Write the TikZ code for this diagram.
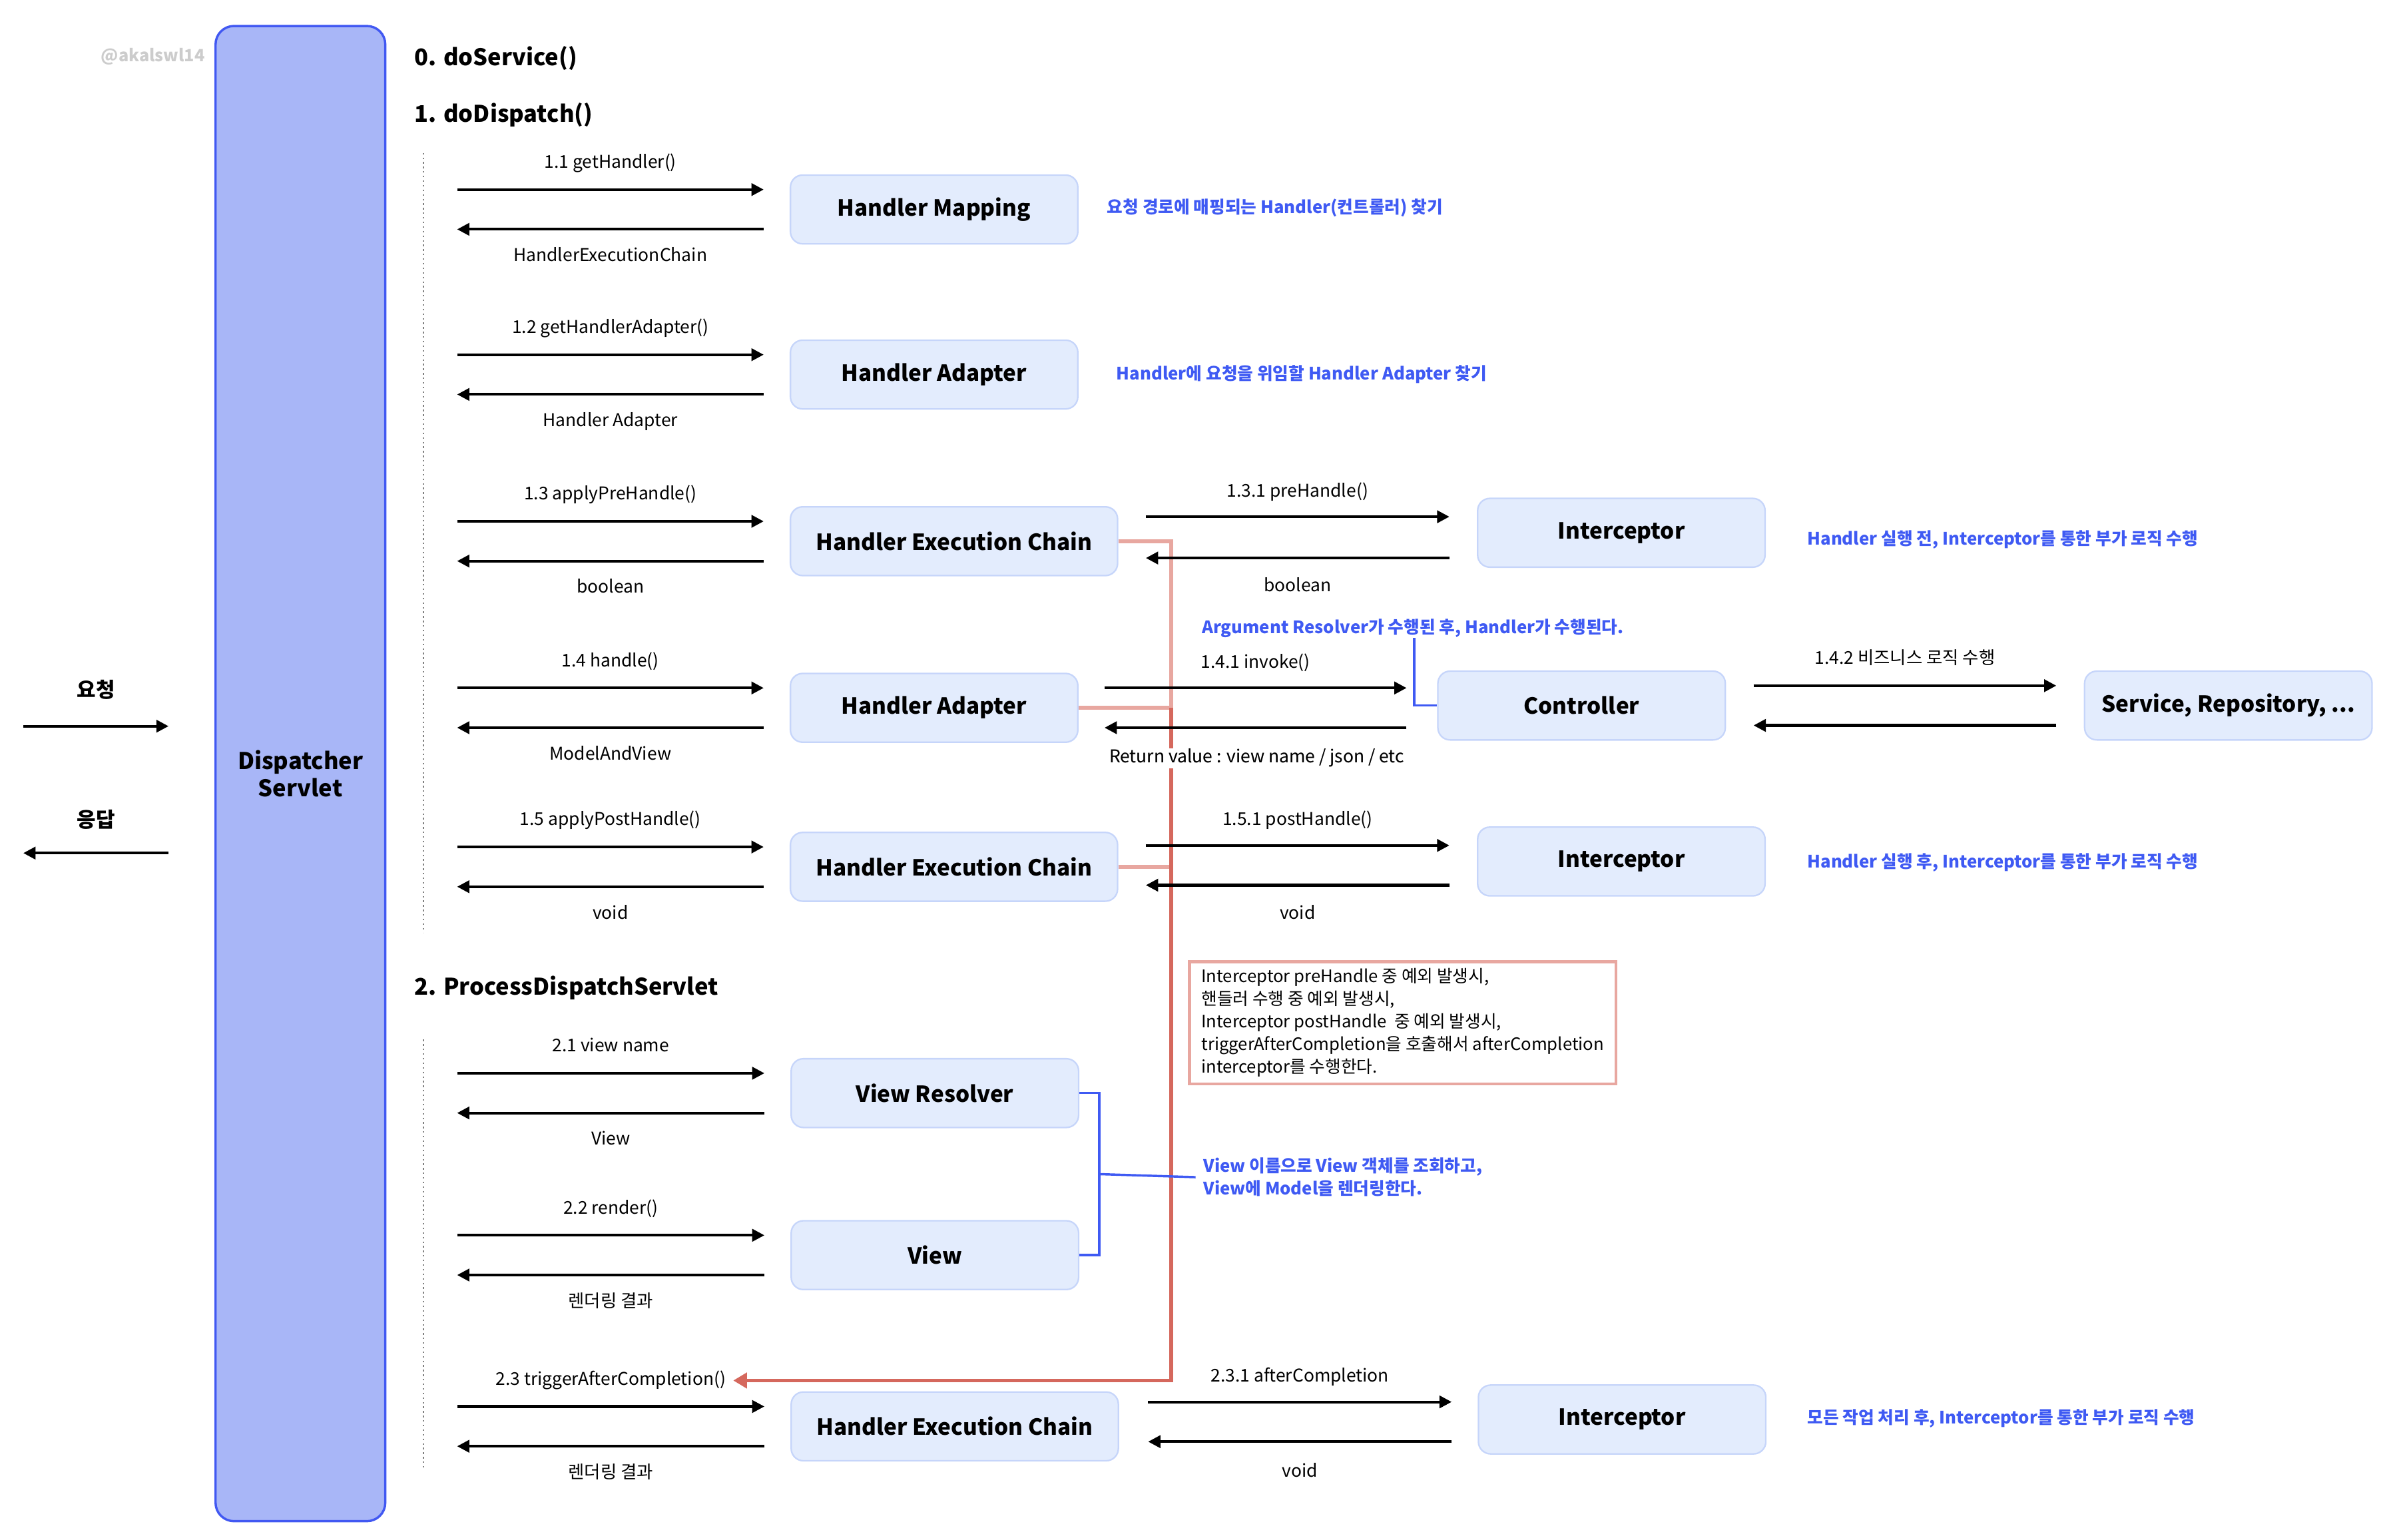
\documentclass[tikz,border=0pt]{standalone}
\usepackage{fontspec}
\setmainfont{Noto Sans CJK KR}
\usetikzlibrary{arrows.meta, calc}

\definecolor{boxfill}{HTML}{E3ECFD}
\definecolor{boxline}{HTML}{C6D5FA}
\definecolor{dsfill}{HTML}{A8B6F7}
\definecolor{dsline}{HTML}{4158F2}
\definecolor{noteblue}{HTML}{3F5AF3}
\definecolor{reddark}{HTML}{D5685D}
\definecolor{redlight}{HTML}{E8A7A0}
\definecolor{markgray}{HTML}{CCCCCC}

\tikzset{
	box/.style={draw=boxline, fill=boxfill, line width=1pt, rounded corners=8pt, minimum width=188pt, minimum height=45pt, font=\bfseries\fontsize{14.5}{17}\selectfont},
	widebox/.style={box, minimum width=214pt},
	call/.style={-{Triangle[length=8pt, width=8pt]}, line width=1.8pt},
	lbl/.style={font=\fontsize{11.5}{14}\selectfont, inner sep=1pt, text height=8.5pt, text depth=2.5pt},
	note/.style={anchor=west, text=noteblue, font=\bfseries\fontsize{11.2}{15}\selectfont, inner sep=0pt},
	title/.style={anchor=west, font=\bfseries\fontsize{15}{18}\selectfont, inner sep=0pt},
	bracket/.style={draw=noteblue, line width=1.5pt},
	errline/.style={draw=reddark, line width=2.5pt},
	errstub/.style={draw=redlight, line width=2.5pt}
}

\begin{document}
\begin{tikzpicture}[x=1pt, y=-1pt]
	\useasboundingbox (0, 0) rectangle (1560, 1007);
	
	% 左边
	\node [text=markgray, font=\bfseries\fontsize{11}{13}\selectfont] (mark) at (100, 37) {@akalswl14};
	\node [draw=dsline, fill=dsfill, line width=1.5pt, rounded corners=12pt, minimum width=111pt, minimum height=978pt, align=center, font=\bfseries\fontsize{15}{18}\selectfont] (ds) at (196.5, 506) {Dispatcher\\Servlet};
	\draw [call] ([xshift=-125pt, yshift=31pt]ds.west) -- node [font=\bfseries\fontsize{13.5}{16}\selectfont, yshift=24pt] (req) {요청} ([xshift=-30pt, yshift=31pt]ds.west);
	\draw [call] ([xshift=-30pt, yshift=-52pt]ds.west) -- node [font=\bfseries\fontsize{13.5}{16}\selectfont, yshift=22pt] (res) {응답} ([xshift=-125pt, yshift=-52pt]ds.west);
	
	% 标题
	\node [title] (t0) at (271, 38) {0. doService()};
	\node [title] (t1) at (271, 75) {1. doDispatch()};
	\node [title] (t2) at (271, 646) {2. ProcessDispatchServlet};
	\draw [gray, dotted, line width=1pt] (277, 100) -- (277, 610);
	\draw [gray, dotted, line width=1pt] (277, 680) -- (277, 960);
	\coordinate (rail) at (299, 0);
	\coordinate (bus) at (766, 0);
	
	% 中间一列
	% modules
	\node [box] (hm) at (611, 137) {Handler Mapping};
	\node [box] (ha1) at (611, 245) {Handler Adapter};
	\node [widebox] (hec1) at (624, 354) {Handler Execution Chain};
	\node [box] (ha2) at (611, 463) {Handler Adapter};
	\node [widebox] (hec2) at (624, 567) {Handler Execution Chain};
	\node [box] (vr) at (611.5, 715) {View Resolver};
	\node [box] (vw) at (611.5, 821) {View};
	\node [widebox] (hec3) at (624.5, 933) {Handler Execution Chain};
	
	% 错误处理
	\node [lbl] (ret) at (822, 496) {Return value : view name / json / etc};
	\draw [errstub] (hec1.east) -- (bus |- hec1.east) -- (bus |- ha2.east);
	\draw [errstub] (ha2.east) -- (bus |- ha2.east);
	\draw [errstub] (hec2.east) -- (bus |- hec2.east);
	\draw [errline] (bus |- ha2.east) -- (bus |- ret.north);
	\node [lbl, fill=white, fill opacity=.6, text opacity=1] at (ret) {Return value : view name / json / etc};
	
	% lines
	\draw [call] ([yshift=13pt]rail |- hm.west) -- node [lbl, yshift=17pt] (l11) {1.1 getHandler()} ([xshift=-17pt, yshift=13pt]hm.west);
	\draw [call] ([xshift=-17pt, yshift=-13pt]hm.west) -- node [lbl, yshift=-18pt] (r11) {HandlerExecutionChain} ([yshift=-13pt]rail |- hm.west);
	
	\draw [call] ([yshift=13pt]rail |- ha1.west) -- node [lbl, yshift=17pt] (l12) {1.2 getHandlerAdapter()} ([xshift=-17pt, yshift=13pt]ha1.west);
	\draw [call] ([xshift=-17pt, yshift=-13pt]ha1.west) -- node [lbl, yshift=-18pt] (r12) {Handler Adapter} ([yshift=-13pt]rail |- ha1.west);
	
	\draw [call] ([yshift=13pt]rail |- hec1.west) -- node [lbl, yshift=17pt] (l13) {1.3 applyPreHandle()} ([xshift=-17pt, yshift=13pt]hec1.west);
	\draw [call] ([xshift=-17pt, yshift=-13pt]hec1.west) -- node [lbl, yshift=-18pt] (r13) {boolean} ([yshift=-13pt]rail |- hec1.west);
	
	\draw [call] ([yshift=13pt]rail |- ha2.west) -- node [lbl, yshift=17pt] (l14) {1.4 handle()} ([xshift=-17pt, yshift=13pt]ha2.west);
	\draw [call] ([xshift=-17pt, yshift=-13pt]ha2.west) -- node [lbl, yshift=-18pt] (r14) {ModelAndView} ([yshift=-13pt]rail |- ha2.west);
	
	\draw [call] ([yshift=13pt]rail |- hec2.west) -- node [lbl, yshift=17pt] (l15) {1.5 applyPostHandle()} ([xshift=-17pt, yshift=13pt]hec2.west);
	\draw [call] ([xshift=-17pt, yshift=-13pt]hec2.west) -- node [lbl, yshift=-18pt] (r15) {void} ([yshift=-13pt]rail |- hec2.west);
	
	\draw [call] ([yshift=13pt]rail |- vr.west) -- node [lbl, yshift=17pt] (l21) {2.1 view name} ([xshift=-17pt, yshift=13pt]vr.west);
	\draw [call] ([xshift=-17pt, yshift=-13pt]vr.west) -- node [lbl, yshift=-18pt] (r21) {View} ([yshift=-13pt]rail |- vr.west);
	
	\draw [call] ([yshift=13pt]rail |- vw.west) -- node [lbl, yshift=17pt] (l22) {2.2 render()} ([xshift=-17pt, yshift=13pt]vw.west);
	\draw [call] ([xshift=-17pt, yshift=-13pt]vw.west) -- node [lbl, yshift=-18pt] (r22) {렌더링 결과} ([yshift=-13pt]rail |- vw.west);
	
	\draw [call] ([yshift=13pt]rail |- hec3.west) -- node [lbl, yshift=17pt] (l23) {2.3 triggerAfterCompletion()} ([xshift=-17pt, yshift=13pt]hec3.west);
	\draw [call] ([xshift=-17pt, yshift=-13pt]hec3.west) -- node [lbl, yshift=-18pt] (r23) {렌더링 결과} ([yshift=-13pt]rail |- hec3.west);
	
	\draw [errline, -{Triangle[length=9pt, width=10pt]}] (bus |- ret.south) -- (bus |- l23.east) -- ([xshift=3pt]l23.east);
	
	% 右边
	% modules
	\node [box] (ic1) at (1060.5, 348.5) {Interceptor};
	\node [box] (ctrl) at (1034.5, 461.5) {Controller};
	\node [box] (svc) at (1457.5, 461.5) {Service, Repository, ...};
	\node [box] (ic2) at (1060.5, 563.5) {Interceptor};
	\node [box] (ic3) at (1061, 928.5) {Interceptor};
	% lines
	\draw [call] ([xshift=18pt, yshift=16pt]hec1.east) -- node [lbl, yshift=16pt] (l131) {1.3.1 preHandle()} ([xshift=-18pt, yshift=16pt]hec1.east -| ic1.west);
	\draw [call] ([xshift=-18pt, yshift=-11pt]hec1.east -| ic1.west) -- node [lbl, yshift=-19pt] (r131) {boolean} ([xshift=18pt, yshift=-11pt]hec1.east);
	
	\draw [call] ([xshift=17pt, yshift=13pt]ha2.east) -- node [lbl, yshift=16pt] (l141) {1.4.1 invoke()} ([xshift=-20pt, yshift=13pt]ha2.east -| ctrl.west);
	\draw [call] ([xshift=-20pt, yshift=-13pt]ha2.east -| ctrl.west) -- ([xshift=17pt, yshift=-13pt]ha2.east);
	
	\draw [call] ([xshift=18pt, yshift=13pt]ctrl.east) -- node [lbl, yshift=17pt] (l142) {1.4.2 비즈니스 로직 수행} ([xshift=-18pt, yshift=13pt]svc.west);
	\draw [call] ([xshift=-18pt, yshift=-13pt]svc.west) -- ([xshift=18pt, yshift=-13pt]ctrl.east);
	
	\draw [call] ([xshift=18pt, yshift=14pt]hec2.east) -- node [lbl, yshift=16pt] (l151) {1.5.1 postHandle()} ([xshift=-18pt, yshift=14pt]hec2.east -| ic2.west);
	\draw [call] ([xshift=-18pt, yshift=-12pt]hec2.east -| ic2.west) -- node [lbl, yshift=-19pt] (r151) {void} ([xshift=18pt, yshift=-12pt]hec2.east);
	
	\draw [call] ([xshift=19pt, yshift=16pt]hec3.east) -- node [lbl, yshift=16pt] (l231) {2.3.1 afterCompletion} ([xshift=-17pt, yshift=16pt]hec3.east -| ic3.west);
	\draw [call] ([xshift=-17pt, yshift=-10pt]hec3.east -| ic3.west) -- node [lbl, yshift=-20pt] (r231) {void} ([xshift=19pt, yshift=-10pt]hec3.east);
	
	% 说明
	\node [note] (n11) at (724, 136) {요청 경로에 매핑되는 Handler(컨트롤러) 찾기};
	\node [note] (n12) at (730, 245) {Handler에 요청을 위임할 Handler Adapter 찾기};
	\node [note] (n13) at (1182, 353) {Handler 실행 전, Interceptor를 통한 부가 로직 수행};
	\node [note] (argn) at (786, 411) {Argument Resolver가 수행된 후, Handler가 수행된다.};
	\node [note] (n15) at (1182, 564) {Handler 실행 후, Interceptor를 통한 부가 로직 수행};
	\node [note, align=left] (vnote) at (787, 770) {View 이름으로 View 객체를 조회하고,\\View에 Model을 렌더링한다.};
	\node [note] (n23) at (1182, 928) {모든 작업 처리 후, Interceptor를 통한 부가 로직 수행};
	
	\draw [bracket] ([xshift=-15pt]ctrl.west |- argn.south) -- ([xshift=-15pt]ctrl.west) -- (ctrl.west);
	\coordinate (vmid) at ($(vr.east)!.5!(vw.east) + (13, 0)$);
	\draw [bracket] (vr.east) -- ++(13, 0) |- (vw.east);
	\draw [bracket] (vmid) -- ([xshift=-5pt]vnote.west);
	
	\node [draw=redlight, line width=2pt, fill=white, anchor=north west, minimum width=279pt, minimum height=80pt, align=left, inner sep=3pt, font=\fontsize{11.2}{14.8}\selectfont] (errbox) at (777, 628) {Interceptor preHandle 중 예외 발생시,\\핸들러 수행 중 예외 발생시,\\Interceptor postHandle\ \ 중 예외 발생시,\\triggerAfterCompletion을 호출해서 afterCompletion\\interceptor를 수행한다.};
\end{tikzpicture}
\end{document}
